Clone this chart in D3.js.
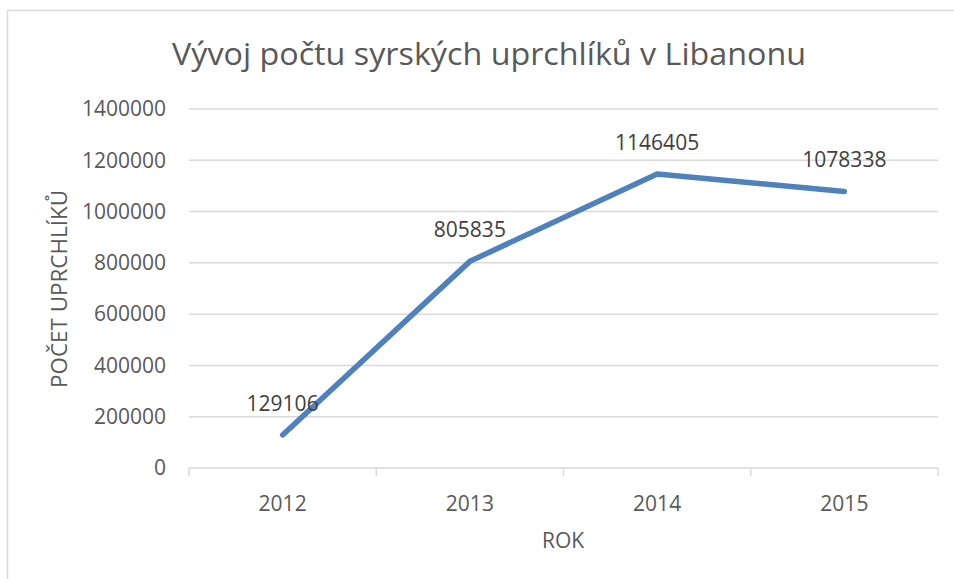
<!DOCTYPE html>
<html>
<head>
<meta charset="utf-8">
<script src="https://cdn.jsdelivr.net/npm/d3@7"></script>
<style>
  body { margin: 0; background: #fff; }
  text { font-family: "Open Sans", "Noto Sans", sans-serif; }
</style>
</head>
<body>
<svg id="chart" width="954" height="579"></svg>
<script>
// data
var years = ["2012", "2013", "2014", "2015"];
var refugees = [129106, 805835, 1146405, 1078338];
var yTicks = [0, 200000, 400000, 600000, 800000, 1000000, 1200000, 1400000];

var svg = d3.select("#chart");
// plot box (note: "top" is taken by window.top, so prefix these)
var plotLeft = 189, plotRight = 938, plotTop = 109, plotBottom = 468;

// chart frame
svg.append("rect")
  .attr("x", 7.5).attr("y", 10.5)
  .attr("width", 960).attr("height", 600)
  .attr("fill", "none").attr("stroke", "#d9d9d9").attr("stroke-width", 1.5);

var x = d3.scaleBand().domain(years).range([plotLeft, plotRight]).padding(0);
var y = d3.scaleLinear().domain([0, 1400000]).range([plotBottom, plotTop]);

// gridlines
svg.append("g").selectAll("line")
  .data(yTicks.filter(function(d) { return d > 0; }))
  .enter().append("line")
  .attr("x1", plotLeft).attr("x2", plotRight)
  .attr("y1", function(d) { return y(d); })
  .attr("y2", function(d) { return y(d); })
  .attr("stroke", "#d9d9d9").attr("stroke-width", 1.5);

// y axis labels
var yAxis = d3.axisLeft(y).tickValues(yTicks).tickSize(0).tickPadding(23)
  .tickFormat(function(d) { return String(d); });
var gy = svg.append("g").attr("transform", "translate(" + plotLeft + ",0)").call(yAxis);
gy.select(".domain").remove();
gy.selectAll("text")
  .attr("font-size", 21).attr("fill", "#595959")
  .attr("font-family", "Open Sans, sans-serif");

// x axis
var xAxis = d3.axisBottom(x).tickSize(0).tickPadding(28);
var gx = svg.append("g").attr("transform", "translate(0," + plotBottom + ")").call(xAxis);
gx.select(".domain").attr("stroke", "#d9d9d9").attr("stroke-width", 1.5)
  .attr("d", "M" + plotLeft + ",0H" + plotRight);
gx.selectAll("text")
  .attr("font-size", 21).attr("fill", "#595959")
  .attr("font-family", "Open Sans, sans-serif");
// tick marks between categories
var bounds = years.map(function(d) { return x(d); }).concat([plotRight]);
gx.selectAll(".sep").data(bounds).enter().append("line")
  .attr("class", "sep")
  .attr("x1", function(d) { return d; }).attr("x2", function(d) { return d; })
  .attr("y1", 0).attr("y2", 8)
  .attr("stroke", "#d9d9d9").attr("stroke-width", 1.5);

// the line
var line = d3.line()
  .x(function(d, i) { return x(years[i]) + x.bandwidth() / 2; })
  .y(function(d) { return y(d); });
svg.append("path")
  .datum(refugees)
  .attr("d", line)
  .attr("fill", "none")
  .attr("stroke", "#4f81bd")
  .attr("stroke-width", 5.5)
  .attr("stroke-linecap", "round")
  .attr("stroke-linejoin", "round");

// data labels
svg.append("g").selectAll("text")
  .data(refugees).enter().append("text")
  .attr("x", function(d, i) { return x(years[i]) + x.bandwidth() / 2; })
  .attr("y", function(d) { return y(d) - 24; })
  .attr("text-anchor", "middle")
  .attr("font-size", 21).attr("fill", "#404040")
  .text(function(d) { return d; });

// title
svg.append("text")
  .attr("x", 489).attr("y", 65)
  .attr("text-anchor", "middle")
  .attr("font-size", 31).attr("fill", "#595959")
  .attr("textLength", 634).attr("lengthAdjust", "spacingAndGlyphs")
  .text("Vývoj počtu syrských uprchlíků v Libanonu");

// axis titles
svg.append("text")
  .attr("transform", "translate(67,289) rotate(-90)")
  .attr("text-anchor", "middle")
  .attr("font-size", 22).attr("fill", "#595959")
  .attr("textLength", 198).attr("lengthAdjust", "spacingAndGlyphs")
  .text("POČET UPRCHLÍKŮ");

svg.append("text")
  .attr("x", 563).attr("y", 548)
  .attr("text-anchor", "middle")
  .attr("font-size", 21).attr("fill", "#595959")
  .text("ROK");
</script>
</body>
</html>
